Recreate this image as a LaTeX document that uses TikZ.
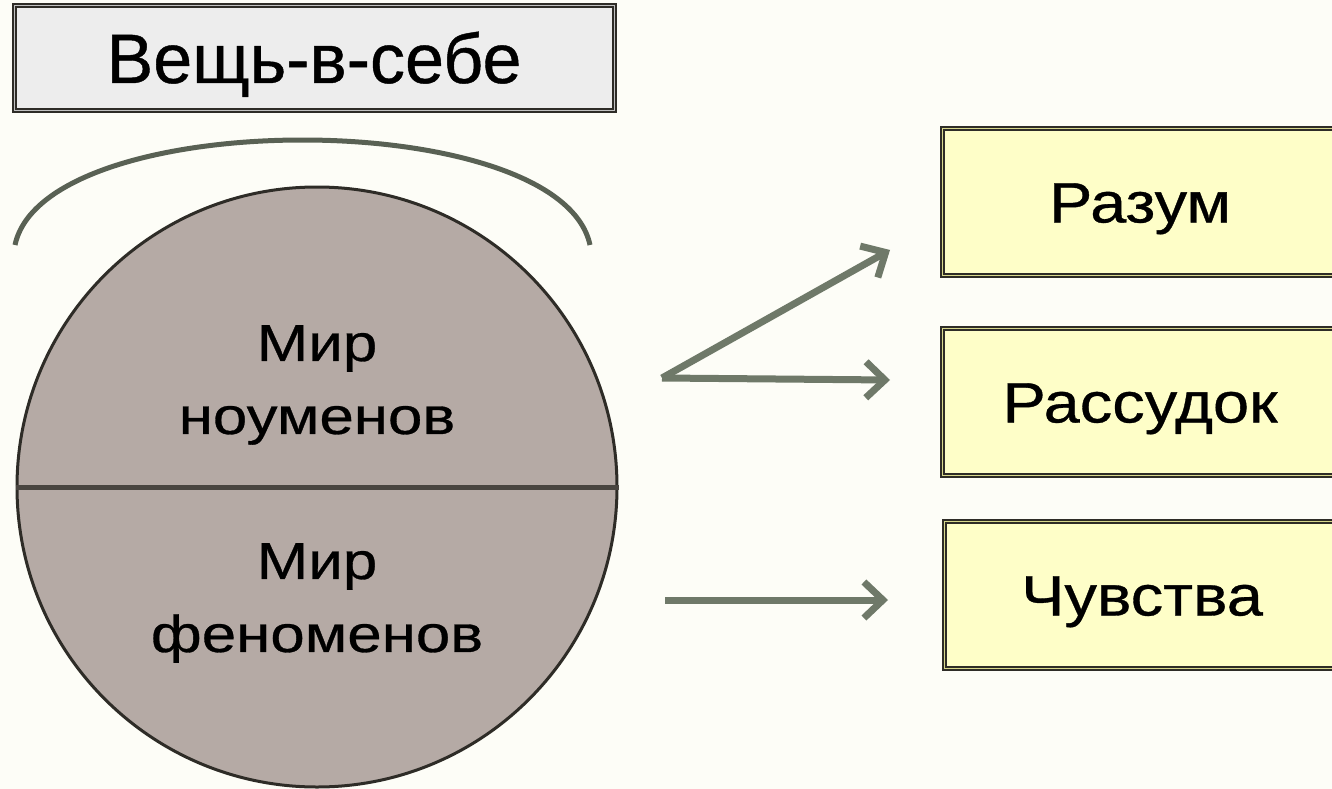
\documentclass[tikz,border=0pt]{standalone}
\usepackage{fontspec}
\setmainfont[FakeBold=0.6]{Liberation Sans}
\newfontfamily\widesans[FakeStretch=1.14,FakeBold=0.6]{Liberation Sans}
\newfontfamily\widersans[FakeStretch=1.19,FakeBold=0.6]{Liberation Sans}
\usepackage{tikz}
\usetikzlibrary{arrows.meta}
\definecolor{bgcream}{HTML}{FDFDF7}
\definecolor{edgedark}{HTML}{2E2C27}
\definecolor{titlefill}{HTML}{EDEDED}
\definecolor{facultyfill}{HTML}{FEFEC8}
\definecolor{worldfill}{HTML}{B5AAA5}
\definecolor{arrowgreen}{HTML}{6F7969}

\begin{document}
\begin{tikzpicture}[x=1pt,y=-1pt,
        titlebox/.style={draw=edgedark,line width=2pt,double=titlefill!60!gray,double distance=1pt,fill=titlefill,
            minimum width=600pt,minimum height=105pt,inner sep=0pt,text height=50pt,text depth=0pt,
            font=\fontsize{70}{80}\selectfont},
        faculty/.style={draw=edgedark,line width=2pt,double=facultyfill!70!olive,double distance=1pt,fill=facultyfill,
            minimum width=396pt,minimum height=147pt,inner sep=0pt,text height=41pt,text depth=0pt,
            font=\widesans\fontsize{57}{68}\selectfont},
        worldtext/.style={align=center,inner sep=0pt,anchor=north,font=\widersans\fontsize{52}{73}\selectfont},
        conn/.style={arrowgreen,line width=7pt,-{Straight Barb[length=19pt,width=36pt,line width=7pt]}}]
        \useasboundingbox (0,0) rectangle (1332,789);
        \fill[bgcream] (0,0) rectangle (1332,789);
        \node[titlebox] (thing) at (314,58) {Вещь-в-себе};
        \draw[arrowgreen!80!black,line width=5pt] (15,245) .. controls (45,105) and (560,105) .. (590,245);
        \node[circle,draw=edgedark,line width=3pt,fill=worldfill,minimum size=600pt,inner sep=0pt] (world) at (317,487) {};
        \draw[edgedark!80!worldfill,line width=5pt] (world.west) -- (world.east);
        \node[worldtext] (noumena) at (317,325) {Мир\\ноуменов};
        \node[worldtext] (phenomena) at (317,543) {Мир\\феноменов};
        \node[faculty] (razum) at (1140,202) {Разум};
        \node[faculty] (rassudok) at (1140,402) {Рассудок};
        \node[faculty] (chuvstva) at (1142,595) {Чувства};
        \coordinate (fork) at (662,378);
        \coordinate (upper) at (890,250);
        \coordinate (middle) at (890,380);
        \coordinate (lowstart) at (665,600);
        \coordinate (lower) at (888,600);
        \draw[conn] (fork) -- (upper);
        \draw[conn] (fork) -- (middle);
        \draw[conn] (lowstart) -- (lower);
\end{tikzpicture}
\end{document}
